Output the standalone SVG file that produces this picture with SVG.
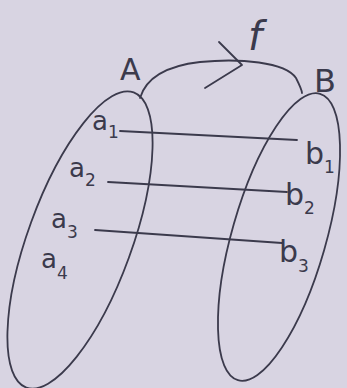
<svg xmlns="http://www.w3.org/2000/svg" width="347" height="388" viewBox="0 0 347 388">
<style>
.ink{fill:none;stroke:#3b3a4c;stroke-width:1.8;stroke-linecap:round;stroke-linejoin:round}
.t{font-family:"DejaVu Sans","Liberation Sans",sans-serif;fill:#3b3a4c}
.m{font-size:26px}
.bb{font-size:30px}
.s{font-size:17px}
</style>
<rect width="347" height="388" fill="#d8d4e2"/>
<g id="setA">
<ellipse class="ink" cx="80" cy="240" rx="52" ry="157" transform="rotate(20 80 240)"/>
<text class="t" x="120" y="80" font-size="30">A</text>
<text class="t m" x="92" y="130">a<tspan class="s" dy="8">1</tspan></text>
<text class="t m" x="69" y="177">a<tspan class="s" dy="9">2</tspan></text>
<text class="t m" x="51" y="228">a<tspan class="s" dy="10">3</tspan></text>
<text class="t m" x="41" y="268">a<tspan class="s" dy="11">4</tspan></text>
</g>
<g id="setB">
<ellipse class="ink" cx="279" cy="237" rx="47" ry="149" transform="rotate(16 279 237)"/>
<text class="t" x="314" y="92" font-size="32">B</text>
<text class="t bb" x="305" y="164">b<tspan class="s" dy="9">1</tspan></text>
<text class="t bb" x="285" y="205">b<tspan class="s" dy="9">2</tspan></text>
<text class="t bb" x="279" y="262">b<tspan class="s" dy="10">3</tspan></text>
</g>
<g id="connectors">
<path class="ink" d="M140,98 C146,78 165,66 200,62 C240,58 285,62 296,78 C300,86 302,90 302,93"/>
<path class="ink" d="M219,42 L242,65 L205,88"/>
<text class="t" x="248" y="50" font-size="40" font-style="italic">f</text>
<line class="ink" x1="120" y1="131" x2="297" y2="140"/>
<line class="ink" x1="108" y1="182" x2="287" y2="192"/>
<line class="ink" x1="95" y1="230" x2="282" y2="243"/>
</g>
</svg>
